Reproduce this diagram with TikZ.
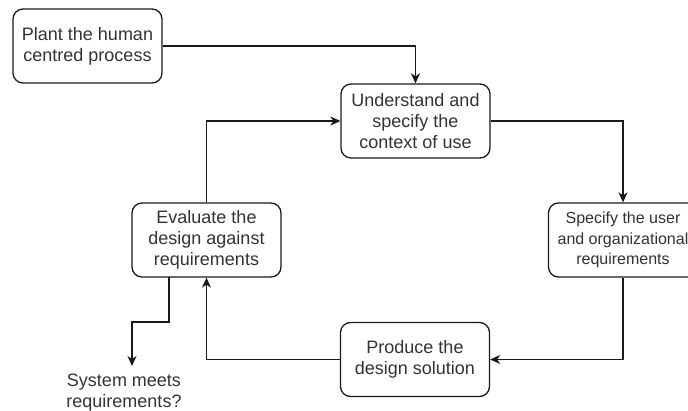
\documentclass[tikz,border=0pt]{standalone}
\usepackage{fontspec}
\setmainfont{Liberation Sans}
\usetikzlibrary{arrows.meta}
\definecolor{txt}{HTML}{333333}
\definecolor{edge}{HTML}{1A1A1A}
\begin{document}
\begin{tikzpicture}[x=1pt,y=-1pt,
  procbox/.style={draw=edge, line width=1.3pt, rounded corners=10pt, fill=white,
    minimum width=149pt, minimum height=74pt, align=center, text=txt,
    font=\fontsize{18}{21}\selectfont, inner sep=0pt},
  smallbox/.style={procbox, font=\fontsize{16}{20.5}\selectfont},
  flow/.style={draw=edge, line width=1.3pt,
    -{Stealth[length=10pt,width=9pt,inset=3pt]}},
  plain/.style={draw=edge, line width=1.3pt},
  note/.style={align=center, text=txt, font=\fontsize{18}{21}\selectfont, inner sep=0pt}]
  \useasboundingbox (0,0) rectangle (688,410);

  % process steps
  \node[procbox] (plant) at (87.5,46) {Plant the human\\centred process};
  \node[procbox] (und) at (415.5,121) {Understand and\\specify the\\context of use};
  \node[smallbox] (spec) at (623,240) {Specify the user\\and organizational\\requirements};
  \node[procbox] (prod) at (415,359.5) {Produce the\\design solution};
  \node[procbox] (eval) at (206.5,240) {Evaluate the\\design against\\requirements};
  \node[note] (sys) at (124,392.5) {System meets\\requirements?};

  % exit path out of the evaluation step
  \coordinate (exitA) at (169,277);
  \coordinate (exitB) at (169,322);
  \coordinate (exitC) at (132,322);
  \coordinate (exitEnd) at (132,366);

  % connectors of the cycle
  \draw[flow] (plant.east) -| (und.north);
  \draw[flow] (und.east) -| (spec.north);
  \draw[flow] (spec.south) |- (prod.east);
  \draw[flow] (prod.west) -| (eval.south);
  \draw[flow] (eval.north) |- (und.west);
  \draw[flow] (exitA) -- (exitB) -- (exitC) -- (exitEnd);
\end{tikzpicture}
\end{document}
